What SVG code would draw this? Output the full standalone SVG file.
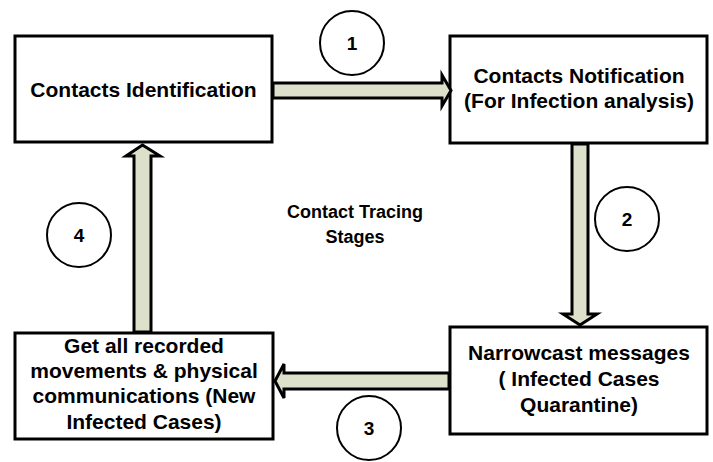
<svg xmlns="http://www.w3.org/2000/svg" width="713" height="462" viewBox="0 0 713 462">
  <style>
    .box { fill: #ffffff; stroke: #000000; stroke-width: 3; }
    .lbl { font-family: "Liberation Sans", Arial, sans-serif; font-weight: bold; font-size: 21px; fill: #000000; text-anchor: middle; }
    .mid { font-family: "Liberation Sans", Arial, sans-serif; font-weight: bold; font-size: 18px; fill: #000000; text-anchor: middle; }
    .step { fill: #ffffff; stroke: #000000; stroke-width: 2; }
    .num { font-family: "Liberation Sans", Arial, sans-serif; font-weight: bold; font-size: 19px; fill: #000000; text-anchor: middle; }
    .arrow { fill: #dde1cb; stroke: #000000; stroke-width: 3; stroke-linejoin: miter; }
  </style>
  <rect width="713" height="462" fill="#ffffff"/>

  <g id="identification">
    <rect class="box" x="15" y="36" width="257" height="106"/>
    <text class="lbl" x="143.5" y="97">Contacts Identification</text>
  </g>

  <g id="notification">
    <rect class="box" x="450" y="36" width="257" height="107"/>
    <text class="lbl" x="579" y="83">Contacts Notification</text>
    <text class="lbl" x="579" y="108">(For Infection analysis)</text>
  </g>

  <g id="narrowcast">
    <rect class="box" x="450" y="327" width="257" height="107"/>
    <text class="lbl" x="579" y="360">Narrowcast messages</text>
    <text class="lbl" x="579" y="386">( Infected Cases</text>
    <text class="lbl" x="579" y="412">Quarantine)</text>
  </g>

  <g id="recorded">
    <rect class="box" x="15" y="333" width="258" height="106"/>
    <text class="lbl" x="144" y="353">Get all recorded</text>
    <text class="lbl" x="144" y="378">movements &amp; physical</text>
    <text class="lbl" x="144" y="403">communications (New</text>
    <text class="lbl" x="144" y="429">Infected Cases)</text>
  </g>

  <g id="title">
    <text class="mid" x="355" y="218">Contact Tracing</text>
    <text class="mid" x="355" y="243">Stages</text>
  </g>

  <g id="connectors">
    <path class="arrow" d="M273,83 L442,83 L442,75 L451,90.5 L442,106 L442,98 L273,98 Z"/>
    <path class="arrow" d="M572,144 L572,314 L563,314 L580,325 L597,314 L588,314 L588,144 Z"/>
    <path class="arrow" d="M449,373 L284,373 L284,364 L275,381 L284,398 L284,389 L449,389 Z"/>
    <path class="arrow" d="M134,332 L134,156 L126,156 L142.5,145 L160,156 L151,156 L151,332 Z"/>
  </g>

  <g id="step-1">
    <circle class="step" cx="352" cy="43" r="32"/>
    <text class="num" x="352" y="50">1</text>
  </g>
  <g id="step-2">
    <circle class="step" cx="627" cy="219" r="32"/>
    <text class="num" x="627" y="226">2</text>
  </g>
  <g id="step-3">
    <circle class="step" cx="369" cy="428" r="32"/>
    <text class="num" x="369" y="435">3</text>
  </g>
  <g id="step-4">
    <circle class="step" cx="79" cy="235" r="32"/>
    <text class="num" x="79" y="242">4</text>
  </g>
</svg>
